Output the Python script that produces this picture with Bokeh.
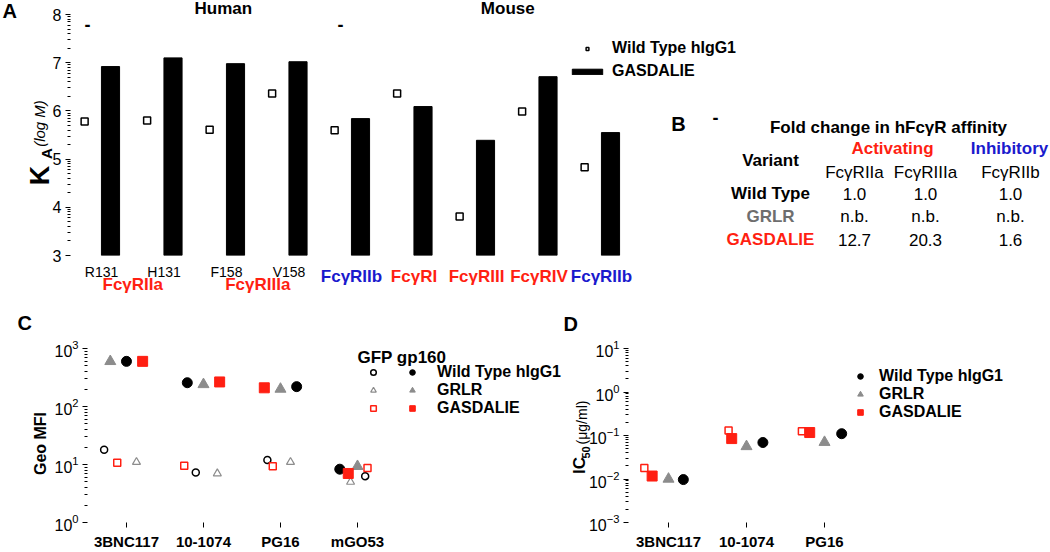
import numpy as np
from bokeh.plotting import figure
from bokeh.models import (Label, Legend, LegendItem, FixedTicker, ColumnDataSource, Range1d)
from bokeh.layouts import column, row
from bokeh.embed import file_html
from bokeh.resources import INLINE

FONT = "Liberation Sans"
RED = "#ff1f12"
BLUE = "#1a1acd"
GREY = "#8c8c8c"

# ---------------- Panel A data ----------------
a_variant = ["R131", "H131", "F158", "V158", "", "", "", "", ""]
a_receptor = ["FcγRIIa", "FcγRIIa", "FcγRIIIa", "FcγRIIIa", "FcγRIIb",
              "FcγRI", "FcγRIII", "FcγRIV", "FcγRIIb"]
a_species = ["Human"] * 5 + ["Mouse"] * 4
a_kind = ["act", "act", "act", "act", "inh", "act", "act", "act", "inh"]
a_wt = [5.78, 5.80, 5.61, 6.36, 5.60, 6.36, 3.81, 5.99, 4.83]
a_gasdalie = [6.92, 7.10, 6.98, 7.02, 5.84, 6.09, 5.39, 6.71, 5.55]
a_yticks = [3, 4, 5, 6, 7, 8]

# ---------------- Panel B table ----------------
b_title = "Fold change in hFcγR affinity"
b_receptors = ["FcγRIIa", "FcγRIIIa", "FcγRIIb"]
b_variants = ["Wild Type", "GRLR", "GASDALIE"]
b_fold = [["1.0", "1.0", "1.0"],
          ["n.b.", "n.b.", "n.b."],
          ["12.7", "20.3", "1.6"]]

# ---------------- Panel C data ----------------
c_antibodies = ["3BNC117", "10-1074", "PG16", "mGO53"]
c_gp160_wt = [600, 257, 220, 8.3]
c_gp160_grlr = [600, 240, 200, 9.3]
c_gp160_gas = [600, 265, 210, 7.0]
c_gfp_wt = [18, 7.3, 12, 6.3]
c_gfp_grlr = [11, 7.0, 11, 5.0]
c_gfp_gas = [10.7, 9.5, 9.3, 8.7]

# ---------------- Panel D data ----------------
d_antibodies = ["3BNC117", "10-1074", "PG16"]
d_wt = [0.0097, 0.069, 0.11]
d_grlr = [0.010, 0.056, 0.070]
d_gas = [0.0117, 0.085, 0.117]
d_gas_rep = [0.0178, 0.13, 0.125]

# scatter dodges (layout only)
c_dx_gp = {"wt": [0, -0.21, 0.21, -0.23], "grlr": [-0.21, 0, 0, 0], "gas": [0.21, 0.21, -0.21, -0.12]}
c_dx_gfp = {"wt": [-0.29, -0.10, -0.17, 0.10], "grlr": [0.13, 0.18, 0.13, -0.09], "gas": [-0.12, -0.25, -0.10, 0.13]}
d_dx = {"wt": [0.19, 0.21, 0.22], "grlr": [0, 0, 0], "gas": [-0.21, -0.19, -0.19], "rep": [-0.31, -0.23, -0.29]}


def style_fig(p):
    p.xgrid.visible = False
    p.ygrid.visible = False
    p.outline_line_color = None
    p.background_fill_color = "white"
    p.border_fill_color = "white"


def style_yaxis(ax, size):
    ax.axis_line_color = None
    ax.major_tick_out = 5
    ax.major_tick_in = 0
    ax.minor_tick_out = 3
    ax.minor_tick_in = 0
    ax.major_tick_line_color = "black"
    ax.minor_tick_line_color = "black"
    ax.major_label_text_font = FONT
    ax.major_label_text_font_size = f"{size}px"
    ax.major_label_text_color = "black"
    ax.major_label_standoff = 4


def style_xaxis(ax, ticks, labels, size, fstyle, tick_out):
    ax.ticker = FixedTicker(ticks=ticks)
    ax.major_label_overrides = {t: l for t, l in zip(ticks, labels)}
    ax.axis_line_color = None
    ax.minor_tick_line_color = None
    ax.major_tick_in = 0
    ax.major_tick_out = tick_out
    ax.major_tick_line_color = "black" if tick_out else None
    ax.major_label_text_font = FONT
    ax.major_label_text_font_size = f"{size}px"
    ax.major_label_text_font_style = fstyle
    ax.major_label_text_color = "black"


def legend(items, loc, standoff, gh=18):
    return Legend(items=items, location=loc, glyph_width=14, glyph_height=gh, label_height=gh,
                  label_standoff=standoff, spacing=0, padding=0, margin=0,
                  label_text_font=FONT, label_text_font_size="16px", label_text_font_style="bold",
                  label_text_color="black", border_line_color=None, background_fill_alpha=0)


# ================= PANEL A (top, with B area to its right) =================
FA_L, FA_R = 70, 760
XA0, XA1 = -0.496, 10.544
pa = figure(width=1050, height=298, x_range=Range1d(XA0, XA1), y_range=Range1d(3, 8),
            output_backend="svg", toolbar_location=None,
            min_border_left=FA_L, min_border_right=1050 - FA_R, min_border_top=14, min_border_bottom=43)
style_fig(pa)
n_a = len(a_wt)
idx_a = np.arange(n_a)
src_a = ColumnDataSource(dict(xg=idx_a + 0.144, xw=idx_a - 0.27, gas=a_gasdalie, wt=a_wt))
bar_r = pa.vbar(x="xg", top="gas", bottom=3, width=0.29, fill_color="black", line_color="black", source=src_a)
wt_r = pa.scatter(x="xw", y="wt", marker="square", size=7, fill_color="white", line_color="black",
                  line_width=1.5, source=src_a)

minor_a = [n + np.log10(k) for n in a_yticks[:-1] for k in range(2, 10)]
pa.yaxis.ticker = FixedTicker(ticks=a_yticks, minor_ticks=minor_a)
style_yaxis(pa.yaxis[0], 16)
lab_idx = [i for i, v in enumerate(a_variant) if v]
style_xaxis(pa.xaxis[0], lab_idx, [a_variant[i] for i in lab_idx], 14, "normal", 0)
pa.xaxis.major_label_standoff = 8

leg_a = Legend(items=[LegendItem(label="Wild Type hIgG1", renderers=[wt_r]),
                      LegendItem(label="GASDALIE", renderers=[bar_r])],
               location=(498, 175), glyph_width=38, glyph_height=7, label_height=15,
               spacing=5, padding=0, margin=0, label_standoff=6,
               label_text_font=FONT, label_text_font_size="16px", label_text_font_style="bold",
               label_text_color="black", border_line_color=None, background_fill_alpha=0)
pa.add_layout(leg_a)

# ================= PANEL C =================
pc = figure(width=575, height=254, x_range=Range1d(-0.506, 5.792), y_range=Range1d(1, 1000),
            y_axis_type="log", output_backend="svg", toolbar_location=None,
            min_border_left=87, min_border_right=3, min_border_top=50, min_border_bottom=27)
style_fig(pc)
ic = np.arange(len(c_antibodies))


def cx(d):
    return (ic + np.array(d)).tolist()


r_gfp_wt = pc.scatter(cx(c_dx_gfp["wt"]), c_gfp_wt, marker="circle", size=7, fill_color=None,
                      line_color="black", line_width=1.5)
r_gfp_grlr = pc.scatter(cx(c_dx_gfp["grlr"]), c_gfp_grlr, marker="triangle", size=8, fill_color=None,
                        line_color=GREY, line_width=1.2)
r_gfp_gas = pc.scatter(cx(c_dx_gfp["gas"]), c_gfp_gas, marker="square", size=7, fill_color="white",
                       line_color=RED, line_width=1.5)
r_wt = pc.scatter(cx(c_dx_gp["wt"]), c_gp160_wt, marker="circle", size=10, fill_color="black", line_color="black")
r_grlr = pc.scatter(cx(c_dx_gp["grlr"]), c_gp160_grlr, marker="triangle", size=11, fill_color=GREY, line_color=GREY)
r_gas = pc.scatter(cx(c_dx_gp["gas"]), c_gp160_gas, marker="square", size=10, fill_color=RED, line_color=RED)

c_major = [1, 10, 100, 1000]
c_minor = [k * 10.0 ** n for n in range(0, 3) for k in range(2, 10)]
pc.yaxis.ticker = FixedTicker(ticks=c_major, minor_ticks=c_minor)
style_yaxis(pc.yaxis[0], 16)
style_xaxis(pc.xaxis[0], list(range(len(c_antibodies))), c_antibodies, 15, "bold", 5)
pc.xaxis.major_label_standoff = 5

pc.add_layout(legend([LegendItem(label=" ", renderers=[r]) for r in (r_gfp_wt, r_gfp_grlr, r_gfp_gas)],
                     (279, 105), 0))
pc.add_layout(legend([LegendItem(label="Wild Type hIgG1", renderers=[r_wt]),
                      LegendItem(label="GRLR", renderers=[r_grlr]),
                      LegendItem(label="GASDALIE", renderers=[r_gas])], (318, 105), 18))

# ================= PANEL D =================
pd_ = figure(width=475, height=254, x_range=Range1d(-0.513, 4.769), y_range=Range1d(0.001, 10),
             y_axis_type="log", output_backend="svg", toolbar_location=None,
             min_border_left=53, min_border_right=10, min_border_top=50, min_border_bottom=27)
style_fig(pd_)
idd = np.arange(len(d_antibodies))


def dx(d):
    return (idd + np.array(d)).tolist()


pd_.scatter(dx(d_dx["rep"]), d_gas_rep, marker="square", size=7, fill_color="white", line_color=RED, line_width=1.5)
rd_gas = pd_.scatter(dx(d_dx["gas"]), d_gas, marker="square", size=10, fill_color=RED, line_color=RED)
rd_grlr = pd_.scatter(dx(d_dx["grlr"]), d_grlr, marker="triangle", size=11, fill_color=GREY, line_color=GREY)
rd_wt = pd_.scatter(dx(d_dx["wt"]), d_wt, marker="circle", size=10, fill_color="black", line_color="black")

d_major = [0.001, 0.01, 0.1, 1, 10]
d_minor = [k * 10.0 ** n for n in range(-3, 1) for k in range(2, 10)]
pd_.yaxis.ticker = FixedTicker(ticks=d_major, minor_ticks=d_minor)
style_yaxis(pd_.yaxis[0], 16)
style_xaxis(pd_.xaxis[0], list(range(len(d_antibodies))), d_antibodies, 15, "bold", 5)
pd_.xaxis.major_label_standoff = 5

pd_.add_layout(legend([LegendItem(label="Wild Type hIgG1", renderers=[rd_wt]),
                       LegendItem(label="GRLR", renderers=[rd_grlr]),
                       LegendItem(label="GASDALIE", renderers=[rd_gas])], (225, 101), 12))

# ================= TEXT OVERLAY (page coordinates) =================
ov = figure(width=1050, height=552, x_range=Range1d(0, 1050), y_range=Range1d(552, 0),
            x_axis_location=None, y_axis_location=None, output_backend="svg", toolbar_location=None,
            min_border_left=0, min_border_right=0, min_border_top=0, min_border_bottom=0)
ov.grid.visible = False
ov.outline_line_color = None
ov.background_fill_color = None
ov.border_fill_color = None


def txt(text, px, py, size, style="normal", color="black", align="center", angle=0.0):
    ov.add_layout(Label(x=px, y=py, text=text, text_font=FONT, text_font_size=f"{size}px",
                        text_font_style=style, text_color=color, text_align=align,
                        text_baseline="middle", angle=angle))


def pa_px(xd):
    return FA_L + (xd - XA0) / (XA1 - XA0) * (FA_R - FA_L)


# panel A texts
txt("A", 2, 10, 20, "bold", align="left")
for sp in ["Human", "Mouse"]:
    members = [i for i in range(n_a) if a_species[i] == sp]
    shift = -0.05 if sp == "Human" else 0.0
    txt(sp, pa_px(float(np.mean(members)) + shift), 8, 17, "bold")
txt("-", 87, 24, 18, "bold")
txt("-", 340, 24, 18, "bold")
groups = []
for i in range(n_a):
    key = (a_species[i], a_receptor[i])
    if groups and groups[-1][0] == key:
        groups[-1][1].append(i)
    else:
        groups.append([key, [i]])
for (sp, rec), members in groups:
    sub = any(a_variant[m] for m in members)
    col = RED if a_kind[members[0]] == "act" else BLUE
    txt(rec, pa_px(float(np.mean(members))), 284 if sub else 276, 17, "bold", color=col)
txt("K", 39, 175, 27, "bold", angle=np.pi / 2)
txt("A", 46, 153, 15, "bold", angle=np.pi / 2)
txt("(log M)", 39, 123, 15, "italic", angle=np.pi / 2)

# panel B table
txt("B", 678, 123, 20, "bold")
txt("-", 715, 117, 18, "bold")
txt(b_title, 888, 127, 17, "bold")
txt("Activating", 892, 148, 17, "bold", color=RED)
txt("Inhibitory", 1009, 148, 17, "bold", color=BLUE)
txt("Variant", 770, 160, 17, "bold")
col_x = [854, 925, 1010]
for cxx, rec in zip(col_x, b_receptors):
    txt(rec, cxx, 172, 17)
row_y = [193, 216, 239]
var_col = ["black", "#6e6e6e", RED]
for ry, var, vc, vals in zip(row_y, b_variants, var_col, b_fold):
    txt(var, 770, ry, 17, "bold", color=vc)
    for cxx, v in zip(col_x, vals):
        txt(v, cxx, ry, 17)

# panel C texts
txt("C", 17, 322, 20, "bold", align="left")
txt("Geo MFI", 40, 443, 16, "bold", angle=np.pi / 2)
txt("GFP gp160", 357, 357, 17, "bold", align="left")

# panel D texts
txt("D", 563, 323, 20, "bold", align="left")
txt("IC", 579, 465, 17, "bold", angle=np.pi / 2)
txt("50", 585, 452, 11, "bold", angle=np.pi / 2)
txt("(μg/ml)", 581, 422, 14, angle=np.pi / 2)

overlay = row(ov, margin=(-552, 0, 0, 0))
layout = column(pa, row(pc, pd_, spacing=0), overlay, spacing=0)
open("out.html", "w").write(file_html(layout, INLINE))
